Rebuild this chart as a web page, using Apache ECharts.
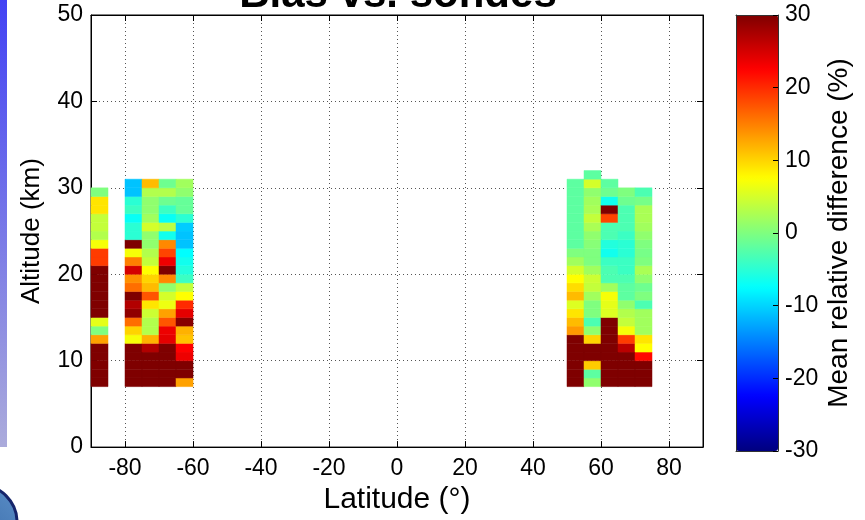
<!DOCTYPE html>
<html>
<head>
<meta charset="utf-8">
<script src="https://cdn.jsdelivr.net/npm/echarts@6/dist/echarts.min.js"></script>
<style>
  html, body { margin: 0; padding: 0; background: #fff; }
  #chart { width: 865px; height: 520px; }
</style>
</head>
<body>
<div id="chart"></div>
<script>
// Latitude bands (left edge, degrees) and their bias profiles (%),
// listed from the lowest altitude bin upward, 1 km per bin.
const latBandEdges = [-90, -80, -75, -70, -65, 50, 55, 60, 65, 70];
const bandStep = 5;      // degrees of latitude per band
const altStep = 1;       // km per altitude bin
const altBottom = 7;     // km, lowest bin of every profile

const biasS90 = [30, 30, 30, 30, 30, 13, 0, 6, 30, 30, 30, 30, 30, 30, 19, 19, 7, 3, 4, 4, 9, 9, 0];
const biasS80 = [30, 30, 30, 30, 30, 7, 10, 16, 29, 27, 30, 16, 14, 25, 15, 7, 30, -5, -5, -7, -4, -5, -11, -11];
const biasS75 = [30, 30, 30, 30, 27, 12, 3, 3, 4.5, 9, 17.5, 11.5, 10, 7.5, 4, 3, 1, 1, 5, 2, 1, 1, 3, 11.5];
const biasS70 = [30, 30, 30, 30, 30, 24, 23.5, 17.5, 13, 6.5, 5, 1, 14.5, 30, 23.5, 18.5, 14.5, -6.5, 3.5, -7, -4, -1, 3, -1];
const biasS65 = [13, 30, 30, 23.5, 22.5, 11, 12, 29.5, 24, 20, 7.5, 4, -4, -5.5, -6.5, -7.5, -11, -11, -10.5, -5, -1.5, -1.5, 1, 2];
const biasN50 = [30, 30, 30, 30, 30, 30, 13.5, 11.5, 9, 5.5, 11.5, 9.5, 7.5, 5, 2, 0, -2, -2, -2, -2, -2, -2, -2, -2];
const biasN55 = [1, -2, 10.5, 30, 30, 10, 1, -3, 0, 0, 2, 4, 4.5, 2, 0, 0, 0.5, 1, 2.5, 4, 2.5, 2, 1, 5, -2];
const biasN60 = [30, 30, 30, 30, 30, 30, 30, 30, 5.5, 6, 7, 2, -3, -3, -4, -6.5, -5.5, -3, -3, 18.5, 30, -6.5, -1, -2];
const biasN65 = [30, 30, 30, 30, 26.5, 19, 7, 4, 3, 1, -2, -2, -3, -4, -4, -5, -5, -4, -3, -3, -3, -1, 0];
const biasN70 = [30, 30, 30, 22, 7.5, 9, 2, 2, 2, -3, 0, -1, 1, 2.5, 0, -0.5, 0, 1, 2, 2.5, 2.5, -0.5, -3];

const bandProfiles = [biasS90, biasS80, biasS75, biasS70, biasS65, biasN50, biasN55, biasN60, biasN65, biasN70];

// Axis ticks
const latTicks = [-80, -60, -40, -20, 0, 20, 40, 60, 80];
const altTicks = [0, 10, 20, 30, 40, 50];
const biasTicks = [-30, -20, -10, 0, 10, 20, 30];

// MATLAB "jet" colour map
const jet = ['#00007F', '#0000FF', '#007FFF', '#00FFFF', '#7FFF7F', '#FFFF00', '#FF7F00', '#FF0000', '#7F0000'];

// Cells: [latitude left edge, altitude bottom, bias]
const cells = [];
bandProfiles.forEach((profile, b) => {
  profile.forEach((v, k) => {
    cells.push([latBandEdges[b], altBottom + k * altStep, v]);
  });
});

const FONT = '"Liberation Sans", Arial, Helvetica, sans-serif';
const gridDot = { color: '#555', width: 1, type: [1, 3] };
const blackLine = { show: true, onZero: false, lineStyle: { color: '#000', width: 1 } };
const barLine = { show: true, onZero: false, lineStyle: { color: '#333', width: 1 } };

const chart = echarts.init(document.getElementById('chart'), null, { renderer: 'canvas' });

chart.setOption({
  backgroundColor: '#ffffff',
  animation: false,
  textStyle: { fontFamily: FONT, color: '#000' },
  grid: [
    { left: 91, top: 15, width: 612, height: 434, show: true, borderColor: '#000', borderWidth: 1, backgroundColor: '#fff', containLabel: false },
    { left: 736, top: 15, width: 42, height: 436, show: false, containLabel: false }
  ],
  xAxis: [
    {
      gridIndex: 0, type: 'value', min: -90, max: 90, interval: 10, position: 'bottom',
      name: 'Latitude (°)', nameLocation: 'middle', nameGap: 33,
      nameTextStyle: { fontSize: 30, fontFamily: FONT, color: '#000' },
      axisLine: blackLine,
      axisTick: { show: true, inside: true, length: 6, customValues: latTicks, lineStyle: { color: '#000' } },
      axisLabel: {
        show: true, customValues: latTicks, margin: 10, fontSize: 23, fontFamily: FONT, color: '#000',
        formatter: v => (v % 20 === 0 && Math.abs(v) < 90) ? String(v) : ''
      },
      splitLine: { show: true, customValues: latTicks, lineStyle: gridDot }
    },
    {
      gridIndex: 0, type: 'value', min: -90, max: 90, interval: 10, position: 'top',
      axisLine: blackLine,
      axisTick: { show: true, inside: true, length: 6, customValues: latTicks, lineStyle: { color: '#000' } },
      axisLabel: { show: false },
      splitLine: { show: false }
    },
    {
      gridIndex: 1, type: 'value', min: 0, max: 1, position: 'bottom', z: 10,
      axisLine: barLine,
      axisTick: { show: false }, axisLabel: { show: false }, splitLine: { show: false }
    },
    {
      gridIndex: 1, type: 'value', min: 0, max: 1, position: 'top', z: 10,
      axisLine: barLine,
      axisTick: { show: false }, axisLabel: { show: false }, splitLine: { show: false }
    }
  ],
  yAxis: [
    {
      gridIndex: 0, type: 'value', min: 0, max: 50, interval: 10, position: 'left',
      name: 'Altitude (km)', nameLocation: 'middle', nameGap: 46, nameRotate: 90,
      nameTextStyle: { fontSize: 26, fontFamily: FONT, color: '#000' },
      axisLine: blackLine,
      axisTick: { show: true, inside: true, length: 6, lineStyle: { color: '#000' } },
      axisLabel: { show: true, margin: 8, fontSize: 23, fontFamily: FONT, color: '#000' },
      splitLine: { show: true, lineStyle: gridDot }
    },
    {
      gridIndex: 0, type: 'value', min: 0, max: 50, interval: 10, position: 'right',
      axisLine: blackLine,
      axisTick: { show: true, inside: true, length: 6, lineStyle: { color: '#000' } },
      axisLabel: { show: false }, splitLine: { show: false }
    },
    {
      gridIndex: 1, type: 'value', min: -30, max: 30, interval: 10, position: 'right', z: 10,
      name: 'Mean relative difference (%)', nameLocation: 'middle', nameGap: 47, nameRotate: 90,
      nameTextStyle: { fontSize: 28, fontFamily: FONT, color: '#000' },
      axisLine: barLine,
      axisTick: { show: true, inside: true, length: 5, lineStyle: { color: '#000' } },
      axisLabel: { show: true, margin: 7, fontSize: 23, fontFamily: FONT, color: '#000' },
      splitLine: { show: false }
    },
    {
      gridIndex: 1, type: 'value', min: -30, max: 30, interval: 10, position: 'left', z: 10,
      axisLine: barLine,
      axisTick: { show: false }, axisLabel: { show: false }, splitLine: { show: false }
    }
  ],
  visualMap: {
    type: 'continuous',
    min: -30, max: 30,
    dimension: 2,
    seriesIndex: 0,
    calculable: false,
    realtime: false,
    orient: 'vertical',
    left: 736, top: 15,
    itemWidth: 42, itemHeight: 436,
    padding: 0,
    text: null,
    showLabel: false,
    hoverLink: false,
    inRange: { color: jet }
  },
  graphic: [
    {
      type: 'rect', left: 0, top: 0, z: 100,
      shape: { x: 0, y: 0, width: 7, height: 447 },
      style: {
        fill: new echarts.graphic.LinearGradient(0, 0, 0, 1, [
          { offset: 0, color: '#4242F4' },
          { offset: 1, color: '#ABABDB' }
        ])
      }
    },
    {
      type: 'circle', z: 100,
      shape: { cx: -20, cy: 522, r: 37 },
      style: {
        fill: new echarts.graphic.LinearGradient(1, 0, 0, 1, [
          { offset: 0, color: '#5b8fc8' },
          { offset: 1, color: '#2c5c9c' }
        ]),
        stroke: '#15246a', lineWidth: 3
      }
    },
    {
      type: 'text', z: 100,
      x: 398, y: -5,
      style: {
        text: 'Bias vs. sondes',
        font: 'bold 42px ' + FONT,
        fill: '#000',
        align: 'center',
        verticalAlign: 'middle'
      }
    }
  ],
  series: [
    {
      type: 'custom',
      xAxisIndex: 0, yAxisIndex: 0,
      z: 5,
      data: cells,
      encode: { x: 0, y: 1 },
      renderItem: (params, api) => {
        const lat = api.value(0);
        const alt = api.value(1);
        const p0 = api.coord([lat, alt + altStep]);
        const p1 = api.coord([lat + bandStep, alt]);
        const fill = api.visual('color');
        return {
          type: 'rect',
          shape: { x: p0[0], y: p0[1], width: p1[0] - p0[0], height: p1[1] - p0[1] },
          style: { fill: fill, stroke: fill, lineWidth: 0.5 }
        };
      }
    }
  ]
});
</script>
</body>
</html>
